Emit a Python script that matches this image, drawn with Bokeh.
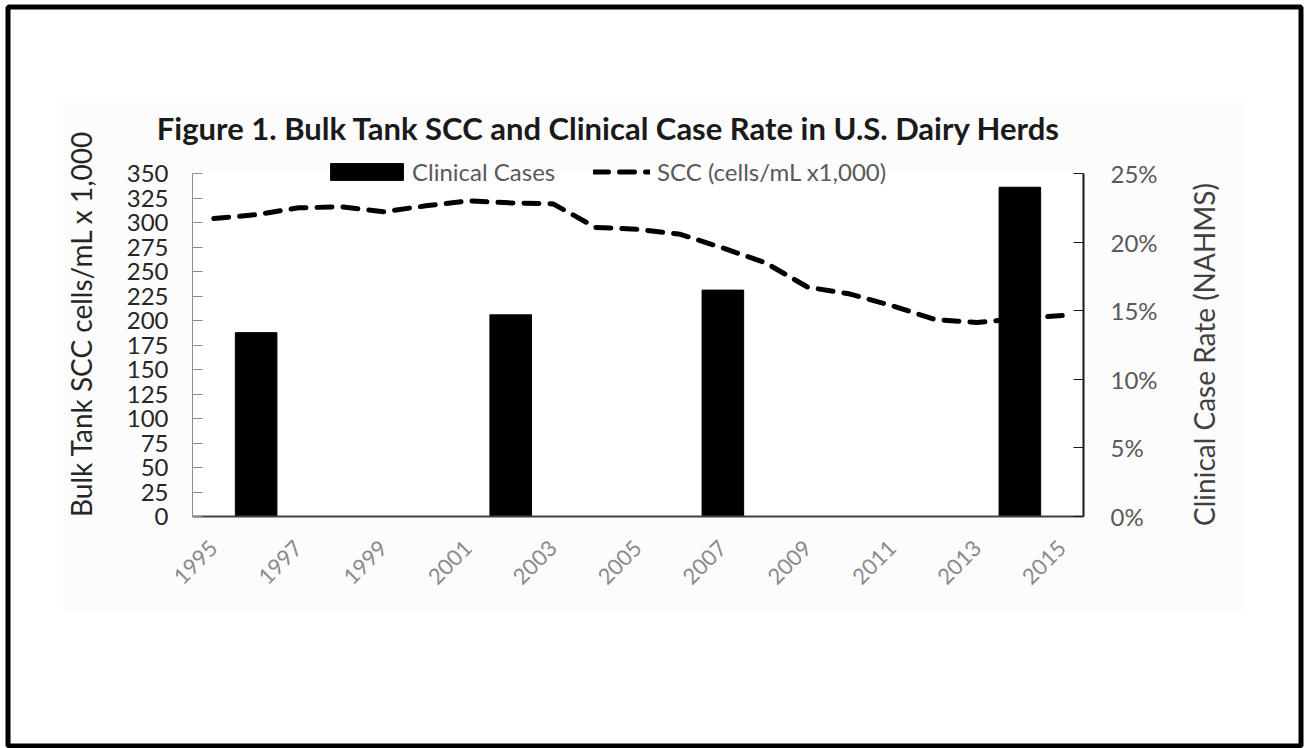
import math
from bokeh.plotting import figure
from bokeh.models import (Range1d, LinearAxis, FixedTicker, PrintfTickFormatter,
                          Legend, LegendItem, Label, BoxAnnotation)
from bokeh.embed import file_html
from bokeh.resources import INLINE

# ---------------- data ----------------
years = list(range(1995, 2016))
scc_values = [304, 308, 315, 316, 311, 317, 322, 320, 319, 295, 293,
              288, 274, 259, 234, 227, 215, 201, 198, 202, 205]
case_years = [1996, 2002, 2007, 2014]
case_rates = [13.4, 14.7, 16.5, 24.0]
x_tick_years = [1995, 1997, 1999, 2001, 2003, 2005, 2007, 2009, 2011, 2013, 2015]
x_tick_labels = [str(y) for y in x_tick_years]
left_ticks = [0, 25, 50, 75, 100, 125, 150, 175, 200, 225, 250, 275, 300, 325, 350]
right_ticks = [0, 5, 10, 15, 20, 25]

title_text = "Figure 1.  Bulk Tank SCC and Clinical Case Rate in U.S. Dairy Herds"
left_title = "Bulk Tank SCC cells/mL x 1,000"
right_title = "Clinical Case Rate (NAHMS)"
bar_label = "Clinical Cases"
line_label = "SCC (cells/mL x1,000)"

# ---------------- layout ----------------
W, H = 1304, 748
FL, FR, FT, FB = 192, 1083, 173, 516      # plot area in canvas pixels
X0, X1 = 1994.5, 2015.5
Y0, Y1 = 0, 350
P0, P1 = 0, 25


def X(px):
    return X0 + (px - FL) / (FR - FL) * (X1 - X0)


def Y(py):
    return Y0 + (FB - py) / (FB - FT) * (Y1 - Y0)


def P(py):
    return P0 + (FB - py) / (FB - FT) * (P1 - P0)


FONT = "Lato"

p = figure(width=W, height=H, x_range=Range1d(X(0), X(W)), y_range=Range1d(Y(H), Y(0)),
           x_axis_location=None, y_axis_location=None,
           output_backend="svg", toolbar_location=None, min_border=0)
p.extra_y_ranges = {"pct": Range1d(P(H), P(0))}
p.background_fill_color = "white"
p.border_fill_color = "white"
p.outline_line_color = None
p.grid.visible = False

# faint chart-area background
p.add_layout(BoxAnnotation(left=X(62), right=X(1242), top=Y(98), bottom=Y(610),
                           fill_color="#fcfcfc", fill_alpha=1, line_color=None,
                           level="underlay"))
p.add_layout(BoxAnnotation(left=X0, right=X1, top=Y1, bottom=Y0,
                           fill_color="white", fill_alpha=1, line_color=None,
                           level="underlay"))

# left axis
ya = LinearAxis(fixed_location=X0, bounds=(Y0, Y1), ticker=FixedTicker(ticks=left_ticks))
ya.major_tick_in = 10
ya.major_tick_out = 0
ya.minor_tick_line_color = None
ya.axis_line_color = "#8c8c8c"
ya.major_tick_line_color = "#8c8c8c"
ya.major_label_standoff = 24
ya.major_label_text_font = FONT
ya.major_label_text_font_size = "24px"
ya.major_label_text_color = "#262626"
p.add_layout(ya, "left")

# bottom axis
xa = LinearAxis(fixed_location=Y0, bounds=(X0, X1), ticker=FixedTicker(ticks=x_tick_years))
xa.major_label_overrides = {y: s for y, s in zip(x_tick_years, x_tick_labels)}
xa.major_label_orientation = math.pi / 4
xa.major_tick_line_color = None
xa.minor_tick_line_color = None
xa.axis_line_color = "#404040"
xa.axis_line_width = 2
xa.major_label_standoff = 22
xa.major_label_text_font = FONT
xa.major_label_text_font_size = "22px"
xa.major_label_text_color = "#8a8a8a"
p.add_layout(xa, "below")

# right axis
ra = LinearAxis(y_range_name="pct", fixed_location=X1, bounds=(P0, P1),
                ticker=FixedTicker(ticks=right_ticks),
                formatter=PrintfTickFormatter(format="%d%%"))
ra.major_tick_in = 10
ra.major_tick_out = 0
ra.minor_tick_line_color = None
ra.axis_line_color = "#1a1a1a"
ra.axis_line_width = 2
ra.major_tick_line_color = "#1a1a1a"
ra.major_label_standoff = 27
ra.major_label_text_font = FONT
ra.major_label_text_font_size = "24px"
ra.major_label_text_color = "#595959"
p.add_layout(ra, "right")

# ---------------- marks ----------------
bars = p.vbar(x=case_years, top=case_rates, width=0.98, y_range_name="pct",
              fill_color="black", line_color="black")
line = p.line(years, scc_values, line_width=5, line_dash="15 11",
              line_cap="round", line_color="black")

# ---------------- legends ----------------
common = dict(orientation="horizontal", padding=0, margin=0, spacing=0,
              border_line_color=None, background_fill_alpha=0,
              label_text_font=FONT, label_text_font_size="24px",
              label_text_color="#595959", glyph_height=21, label_height=21)
leg1 = Legend(items=[LegendItem(label=bar_label, renderers=[bars])],
              location=(321, H - 186), glyph_width=91, label_standoff=0, **common)
leg2 = Legend(items=[LegendItem(label=line_label, renderers=[line])],
              location=(593, H - 186), glyph_width=57, label_standoff=7, **common)
p.add_layout(leg1)
p.add_layout(leg2)

# ---------------- texts ----------------
p.add_layout(Label(x=X(612), y=Y(127), text=title_text, text_font=FONT,
                   text_font_style="bold", text_font_size="31px", text_color="#1a1a1a",
                   text_align="center", text_baseline="middle"))
p.add_layout(Label(x=X(80), y=Y(323), text=left_title, angle=math.pi / 2,
                   text_font=FONT, text_font_size="28px", text_color="#262626",
                   text_align="center", text_baseline="middle"))
p.add_layout(Label(x=X(1203), y=Y(354), text=right_title, angle=math.pi / 2,
                   text_font=FONT, text_font_size="28px", text_color="#404040",
                   text_align="center", text_baseline="middle"))

# outer frame
p.add_layout(BoxAnnotation(left=X(7.5), right=X(1300.5), top=Y(6.5), bottom=Y(745.5),
                           fill_alpha=0, line_color="black", line_width=5, line_alpha=1))

open("out.html", "w").write(file_html(p, INLINE))
